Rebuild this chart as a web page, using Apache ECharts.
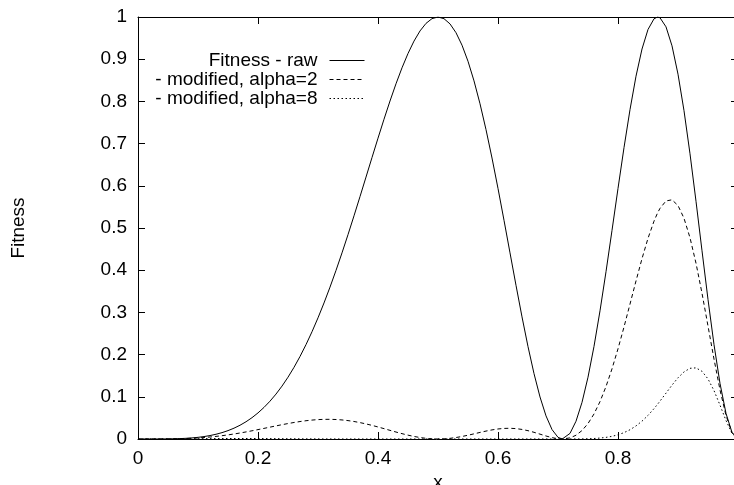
<!DOCTYPE html>
<html>
<head>
<meta charset="utf-8">
<script src="https://cdn.jsdelivr.net/npm/echarts@6/dist/echarts.min.js"></script>
<style>
  html, body { margin: 0; padding: 0; background: #fff; }
  #chart { width: 734px; height: 485px; }
</style>
</head>
<body>
<div id="chart"></div>
<script>
// x positions of the sampled points
const xValues = [
  0, 0.01, 0.02, 0.03, 0.04, 0.05, 0.06, 0.07, 0.08, 0.09,
  0.10, 0.11, 0.12, 0.13, 0.14, 0.15, 0.16, 0.17, 0.18, 0.19,
  0.20, 0.21, 0.22, 0.23, 0.24, 0.25, 0.26, 0.27, 0.28, 0.29,
  0.30, 0.31, 0.32, 0.33, 0.34, 0.35, 0.36, 0.37, 0.38, 0.39,
  0.40, 0.41, 0.42, 0.43, 0.44, 0.45, 0.46, 0.47, 0.48, 0.49,
  0.50, 0.51, 0.52, 0.53, 0.54, 0.55, 0.56, 0.57, 0.58, 0.59,
  0.60, 0.61, 0.62, 0.63, 0.64, 0.65, 0.66, 0.67, 0.68, 0.69,
  0.70, 0.7071, 0.71, 0.72, 0.73, 0.74, 0.75, 0.76, 0.77, 0.78, 0.79,
  0.80, 0.81, 0.82, 0.83, 0.84, 0.85, 0.86, 0.866, 0.87, 0.88, 0.89,
  0.90, 0.91, 0.92, 0.93, 0.94, 0.95, 0.96, 0.97, 0.98, 0.99,
  1.00
];

const rawFitness = [
  0, 0, 0.00001, 0.00003, 0.0001, 0.00025, 0.00051, 0.00095, 0.00162, 0.00259,
  0.00394, 0.00577, 0.00816, 0.01123, 0.01509, 0.01985, 0.02565, 0.03261, 0.04087, 0.05057,
  0.06185, 0.07483, 0.08967, 0.10647, 0.12536, 0.14645, 0.16982, 0.19554, 0.22365, 0.25418,
  0.28711, 0.32238, 0.3599, 0.39953, 0.44108, 0.4843, 0.52889, 0.57449, 0.62069, 0.667,
  0.71289, 0.75776, 0.80096, 0.84182, 0.87959, 0.91354, 0.94291, 0.96694, 0.98491, 0.99613,
  1, 0.99598, 0.98366, 0.96278, 0.93322, 0.89508, 0.84863, 0.79441, 0.73313, 0.66582,
  0.59369, 0.51822, 0.44108, 0.36413, 0.28939, 0.21896, 0.15499, 0.09959, 0.05478, 0.02238,
  0.00394, 0, 0.00066, 0.01331, 0.04213, 0.08681, 0.14645, 0.21948, 0.30373, 0.39645, 0.49435,
  0.59369, 0.69047, 0.78052, 0.85972, 0.92417, 0.97044, 0.99574, 1, 0.99812, 0.97668, 0.93165,
  0.86449, 0.77792, 0.67586, 0.56329, 0.44607, 0.33063, 0.22365, 0.13167, 0.06064, 0.01555,
  0
];

const modifiedAlpha2 = [
  0, 0, 0.00001, 0.00003, 0.00009, 0.0002, 0.0004, 0.0007, 0.00114, 0.00174,
  0.00252, 0.00351, 0.00472, 0.00615, 0.00782, 0.00973, 0.01186, 0.01421, 0.01674, 0.01944,
  0.02227, 0.02517, 0.02812, 0.03105, 0.0339, 0.03661, 0.03913, 0.04138, 0.0433, 0.04484,
  0.04594, 0.04655, 0.04664, 0.04619, 0.04517, 0.04359, 0.04147, 0.03884, 0.03575, 0.03228,
  0.02852, 0.02455, 0.02051, 0.0165, 0.01267, 0.00914, 0.00604, 0.00348, 0.00158, 0.0004,
  0, 0.0004, 0.00157, 0.00347, 0.00597, 0.00895, 0.01222, 0.01557, 0.01877, 0.02157,
  0.02375, 0.02508, 0.02541, 0.02462, 0.02269, 0.01971, 0.01587, 0.01151, 0.0071, 0.00323,
  0.00063, 0, 0.00012, 0.00258, 0.00891, 0.02, 0.03661, 0.05935, 0.08857, 0.12433, 0.1663,
  0.21373, 0.26542, 0.3197, 0.37449, 0.42734, 0.47552, 0.51619, 0.5359, 0.54657, 0.56413, 0.56681,
  0.55327, 0.52307, 0.47689, 0.41661, 0.34544, 0.26781, 0.1893, 0.11634, 0.05589, 0.01494,
  0
];

const modifiedAlpha8 = [
  0, 0, 0, 0.00002, 0.00005, 0.00011, 0.00018, 0.00028, 0.0004, 0.00053,
  0.00066, 0.00079, 0.00091, 0.00101, 0.00109, 0.00114, 0.00117, 0.00117, 0.00115, 0.0011,
  0.00104, 0.00096, 0.00087, 0.00077, 0.00067, 0.00057, 0.00048, 0.00039, 0.00031, 0.00025,
  0.00019, 0.00014, 0.0001, 0.00007, 0.00005, 0.00003, 0.00002, 0.00001, 0.00001, 0,
  0, 0, 0, 0, 0, 0, 0, 0, 0, 0,
  0, 0, 0, 0, 0, 0, 0, 0, 0, 0,
  0, 0, 0, 0.00001, 0.00001, 0.00001, 0.00002, 0.00002, 0.00002, 0.00001,
  0, 0, 0, 0.00002, 0.00008, 0.00025, 0.00057, 0.00117, 0.0022, 0.00383, 0.00633,
  0.00997, 0.01508, 0.02197, 0.03095, 0.04225, 0.05594, 0.07191, 0.08248, 0.08975, 0.10871, 0.12765,
  0.14504, 0.15902, 0.16753, 0.16855, 0.16042, 0.14233, 0.11478, 0.08026, 0.04375, 0.01323,
  0
];

const seriesNames = ['Fitness - raw', '- modified, alpha=2', '- modified, alpha=8'];
const xTicks = [0, 0.2, 0.4, 0.6, 0.8, 1];
const yTicks = [0, 0.1, 0.2, 0.3, 0.4, 0.5, 0.6, 0.7, 0.8, 0.9, 1];

const FONT = "'Liberation Sans', Arial, Helvetica, sans-serif";
const FONT_SIZE = 19;
const black = '#000';

const pairs = (ys) => xValues.map((x, i) => [x, ys[i]]);

const chart = echarts.init(document.getElementById('chart'), null, { renderer: 'canvas' });

const axisCommon = {
  type: 'value',
  axisLine: { show: true, onZero: false, lineStyle: { color: black, width: 1 } },
  axisTick: { show: true, inside: true, length: 7, lineStyle: { color: black, width: 1 } },
  splitLine: { show: false }
};

// one legend per row so the line samples stay lined up on the right
const legendFor = (name, top) => ({
  data: [name],
  right: 369,
  top: top,
  align: 'right',
  orient: 'vertical',
  padding: 0,
  itemWidth: 35,
  itemHeight: 12,
  selectedMode: false,
  itemStyle: { color: 'rgba(0,0,0,0)', borderWidth: 0, borderColor: 'rgba(0,0,0,0)', opacity: 0 },
  lineStyle: { width: 1, color: black },
  textStyle: { fontFamily: FONT, fontSize: FONT_SIZE, color: black, padding: [0, 7, 0, 0] }
});

const lineSeries = (name, ys, dash) => ({
  name: name,
  type: 'line',
  data: pairs(ys),
  symbol: 'none',
  showSymbol: false,
  smooth: false,
  lineStyle: { color: black, width: 1, type: dash },
  itemStyle: { color: black },
  xAxisIndex: 0,
  yAxisIndex: 0
});

const option = {
  animation: false,
  backgroundColor: '#fff',
  textStyle: { fontFamily: FONT },
  grid: { left: 138, top: 17, width: 600, height: 422, containLabel: false, outerBoundsMode: 'none' },
  legend: [
    legendFor(seriesNames[0], 51),
    legendFor(seriesNames[1], 70),
    legendFor(seriesNames[2], 89)
  ],
  xAxis: [
    Object.assign({}, axisCommon, {
      position: 'bottom',
      min: xTicks[0],
      max: xTicks[xTicks.length - 1],
      interval: 0.2,
      name: 'x',
      nameLocation: 'middle',
      nameGap: 29,
      nameTextStyle: { fontFamily: FONT, fontSize: FONT_SIZE, color: black },
      axisLabel: { show: true, margin: 10, fontFamily: FONT, fontSize: FONT_SIZE, color: black, showMaxLabel: false }
    }),
    Object.assign({}, axisCommon, {
      position: 'top',
      min: xTicks[0],
      max: xTicks[xTicks.length - 1],
      interval: 0.2,
      axisLabel: { show: false }
    })
  ],
  yAxis: [
    Object.assign({}, axisCommon, {
      position: 'left',
      min: yTicks[0],
      max: yTicks[yTicks.length - 1],
      interval: 0.1,
      name: 'Fitness',
      nameLocation: 'middle',
      nameRotate: 90,
      nameGap: 110,
      nameTextStyle: { fontFamily: FONT, fontSize: FONT_SIZE, color: black },
      axisLabel: { show: true, margin: 11, fontFamily: FONT, fontSize: FONT_SIZE, color: black }
    }),
    Object.assign({}, axisCommon, {
      position: 'right',
      min: yTicks[0],
      max: yTicks[yTicks.length - 1],
      interval: 0.1,
      axisLabel: { show: false }
    })
  ],
  series: [
    lineSeries(seriesNames[0], rawFitness, 'solid'),
    lineSeries(seriesNames[1], modifiedAlpha2, [4, 3]),
    lineSeries(seriesNames[2], modifiedAlpha8, [1.5, 2.5])
  ]
};

chart.setOption(option);
window.addEventListener('resize', () => chart.resize());
</script>
</body>
</html>
